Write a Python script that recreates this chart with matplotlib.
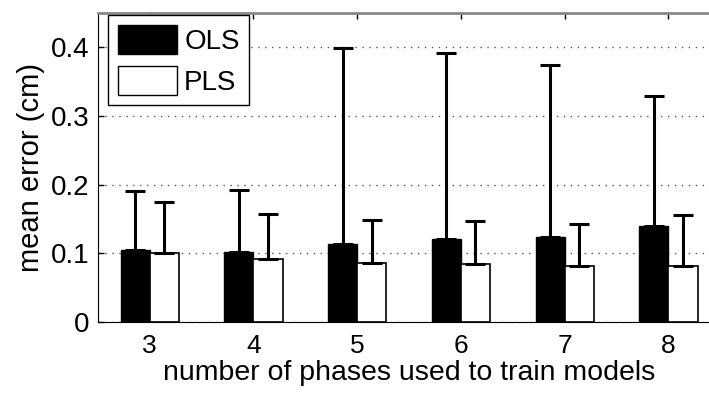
import numpy as np
import matplotlib.pyplot as plt
from matplotlib.patches import Patch

phases = [3, 4, 5, 6, 7, 8]
ols_mean = [0.104, 0.102, 0.113, 0.121, 0.124, 0.140]
ols_err = [0.087, 0.090, 0.286, 0.271, 0.250, 0.189]
pls_mean = [0.100, 0.091, 0.086, 0.084, 0.081, 0.081]
pls_err = [0.075, 0.066, 0.062, 0.063, 0.062, 0.074]

plt.rcParams['font.family'] = ['Liberation Sans', 'DejaVu Sans']

fig = plt.figure(figsize=(7.09, 3.93), dpi=100)
ax = fig.add_axes([0.138, 0.181, 0.878, 0.786])

x = np.array(phases, dtype=float)
w = 0.28
ekw = dict(elinewidth=2.2, capsize=7, capthick=2.2, ecolor='black')
ax.bar(x - w / 2, ols_mean, w, color='black', edgecolor='black', linewidth=1,
       yerr=[np.zeros(len(ols_err)), ols_err], error_kw=ekw, zorder=3)
ax.bar(x + w / 2, pls_mean, w, color='white', edgecolor='black', linewidth=1.2,
       yerr=[np.zeros(len(pls_err)), pls_err], error_kw=ekw, zorder=3)

ax.set_xlim(2.5, 8.5)
ax.set_ylim(0, 0.45)
ax.set_xticks(phases)
ax.set_yticks([0, 0.1, 0.2, 0.3, 0.4])
ax.set_yticklabels(['0', '0.1', '0.2', '0.3', '0.4'])
ax.yaxis.grid(True, linestyle=(0, (1, 4)), color='#555555', linewidth=1)
ax.set_axisbelow(True)
ax.tick_params(axis='both', direction='in', labelsize=20, length=4, width=1)
ax.tick_params(axis='x', top=True, labelsize=19, pad=9)
ax.tick_params(axis='y', pad=6)
ax.spines['top'].set_color('#888888')
ax.spines['top'].set_linewidth(2)
ax.spines['right'].set_visible(False)

ax.set_xlabel('number of phases used to train models', fontsize=20.5, labelpad=1)
ax.set_ylabel('mean error (cm)', fontsize=21, labelpad=4)

handles = [Patch(facecolor='black', edgecolor='black', label='OLS'),
           Patch(facecolor='white', edgecolor='black', label='PLS')]
leg = ax.legend(handles=handles, loc='upper left', bbox_to_anchor=(0.016, 0.994),
                fontsize=20, handlelength=2.15, handleheight=1.25,
                fancybox=False, edgecolor='black', borderaxespad=0,
                handletextpad=0.25, labelspacing=0.4, borderpad=0.35)
leg.get_frame().set_linewidth(1)
leg.get_frame().set_alpha(1)

fig.savefig('out.png', dpi=100)
